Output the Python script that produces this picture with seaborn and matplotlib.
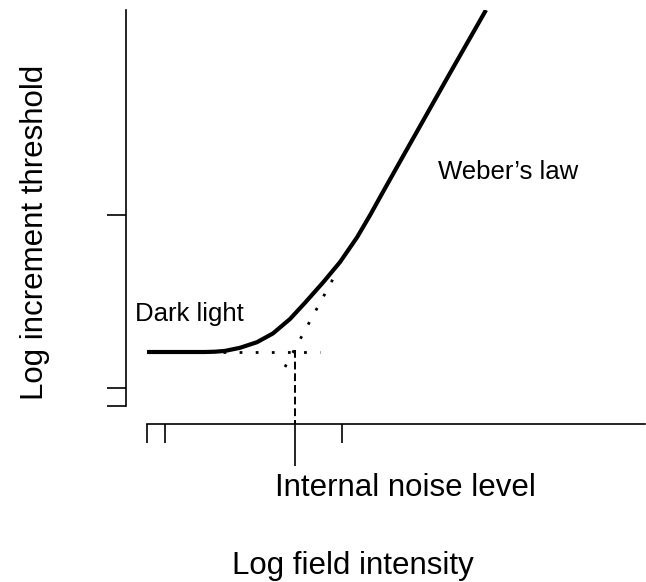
import matplotlib
matplotlib.use("Agg")
import matplotlib.pyplot as plt
import seaborn as sns
import pandas as pd

# ---- data (log units) ----
curve_x = [0.00, 0.58, 0.68, 0.78, 0.93, 1.10, 1.26, 1.43, 1.58, 1.76, 1.93,
           2.10, 2.23, 2.36, 2.56, 2.73, 2.90, 3.03, 3.39]
curve_y = [0.540, 0.540, 0.543, 0.551, 0.582, 0.638, 0.726, 0.870, 1.032, 1.235, 1.439,
           1.686, 1.907, 2.141, 2.497, 2.798, 3.099, 3.329, 3.960]

dark_x = [0.755, 1.73]          # dark-light asymptote (dotted)
dark_y = [0.54, 0.54]
weber_x = [1.38, 1.92]          # Weber asymptote (dotted)
weber_y = [0.39, 1.38]
noise_x = [1.48, 1.48]          # internal noise level marker (dashed)
noise_y = [0.56, -0.18]

x_major_ticks = [0.0, 0.18, 1.95]
x_minor_ticks = [1.48]
y_major_ticks = [0.0, 0.18, 1.91]

ylabel = "Log increment threshold"
xlabel = "Log field intensity"
noise_label = "Internal noise level"
dark_label = "Dark light"
weber_label = "Weber\u2019s law"

# ---- style ----
sns.set_theme(style="white")
plt.rcParams["font.family"] = ["Liberation Sans", "DejaVu Sans"]

W, H = 646, 582
fig = plt.figure(figsize=(W / 100, H / 100), dpi=100)
ax = fig.add_axes([126 / W, 1 - 424 / H, (645 - 126) / W, (424 - 10) / H])

df_curve = pd.DataFrame({"x": curve_x, "y": curve_y})
sns.lineplot(data=df_curve, x="x", y="y", ax=ax, color="black", lw=3,
             sort=False, estimator=None, solid_capstyle="butt",
             solid_joinstyle="round")
sns.lineplot(x=dark_x, y=dark_y, ax=ax, color="black", lw=2.0,
             sort=False, estimator=None, linestyle=(0, (1, 4.8)))
sns.lineplot(x=weber_x, y=weber_y, ax=ax, color="black", lw=2.0,
             sort=False, estimator=None, linestyle=(0, (1, 4.8)))
sns.lineplot(x=noise_x, y=noise_y, ax=ax, color="black", lw=1.4,
             sort=False, estimator=None, linestyle=(0, (4.0, 2.0)))

ax.set_xlim(-0.21, 4.98)
ax.set_ylim(-0.18, 3.96)

for s in ("top", "right"):
    ax.spines[s].set_visible(False)
for s in ("left", "bottom"):
    ax.spines[s].set_color("black")
    ax.spines[s].set_linewidth(1.2)
ax.spines["left"].set_bounds(0, 3.96)
ax.spines["bottom"].set_bounds(0, 4.98)

ax.set_xticks(x_major_ticks)
ax.set_xticks(x_minor_ticks, minor=True)
ax.set_yticks(y_major_ticks)
ax.tick_params(axis="both", which="major", direction="out", length=13.7,
               width=1.2, color="black", labelbottom=False, labelleft=False,
               bottom=True, left=True)
ax.tick_params(axis="x", which="minor", direction="out", length=30.2,
               width=1.2, color="black", bottom=True)
ax.set_xlabel("")
ax.set_ylabel("")
ax.grid(False)

def fx(px):
    return px / W

def fy(py):
    return 1 - py / H

big = 22.5
small = 18.5
fig.text(fx(42.7), fy(232), ylabel, rotation=90, rotation_mode="anchor",
         ha="center", va="baseline", fontsize=big, color="black")
fig.text(fx(352.5), fy(574), xlabel, ha="center", va="baseline",
         fontsize=big, color="black")
fig.text(fx(405.5), fy(496), noise_label, ha="center", va="baseline",
         fontsize=big, color="black")
fig.text(fx(135), fy(321.5), dark_label, ha="left", va="baseline",
         fontsize=small, color="black")
fig.text(fx(438), fy(179), weber_label, ha="left", va="baseline",
         fontsize=small, color="black")

fig.savefig("out.png", dpi=100, facecolor="white")
